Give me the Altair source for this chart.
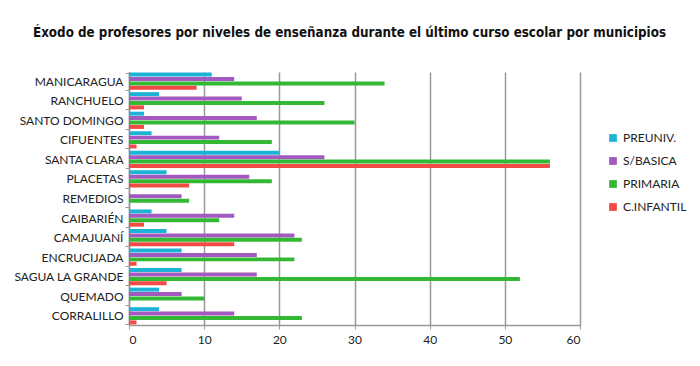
import altair as alt
import pandas as pd

municipios = ["MANICARAGUA", "RANCHUELO", "SANTO DOMINGO", "CIFUENTES", "SANTA CLARA",
              "PLACETAS", "REMEDIOS", "CAIBARIÉN", "CAMAJUANÍ", "ENCRUCIJADA",
              "SAGUA LA GRANDE", "QUEMADO", "CORRALILLO"]
series = ["PREUNIV.", "S/BASICA", "PRIMARIA", "C.INFANTIL"]
preuniv = [11, 4, 2, 3, 20, 5, 0, 3, 5, 7, 7, 4, 4]
sbasica = [14, 15, 17, 12, 26, 16, 7, 14, 22, 17, 17, 7, 14]
primaria = [34, 26, 30, 19, 56, 19, 8, 12, 23, 22, 52, 10, 23]
cinfantil = [9, 2, 2, 1, 56, 8, 0, 2, 14, 1, 5, 0, 1]
colores = ["#1db3d6", "#a25ac1", "#33b833", "#f24a44"]
x_ticks = [0, 10, 20, 30, 40, 50, 60]

rows = []
for s, vals in zip(series, [preuniv, sbasica, primaria, cinfantil]):
    for m, v in zip(municipios, vals):
        rows.append({"municipio": m, "nivel": s, "valor": v})
df = pd.DataFrame(rows)

chart = alt.Chart(df).mark_bar().encode(
    x=alt.X("valor:Q",
            scale=alt.Scale(domain=[0, 60], nice=False),
            axis=alt.Axis(values=x_ticks, title=None, grid=True, gridColor="#999999",
                          gridWidth=1.5, domainColor="#999999", domainWidth=1.5,
                          tickColor="#999999", tickSize=4, labelFont="Lato",
                          labelFontSize=12, labelColor="#222222", labelPadding=5)),
    y=alt.Y("municipio:N", sort=municipios,
            scale=alt.Scale(paddingInner=0.12, paddingOuter=0.03),
            axis=alt.Axis(title=None, domainColor="#999999", domainWidth=1.5,
                          tickColor="#999999", tickSize=4, tickBand="extent",
                          labelFont="Lato", labelFontSize=12, labelColor="#222222",
                          labelPadding=2)),
    yOffset=alt.YOffset("nivel:N", sort=series, scale=alt.Scale(paddingInner=0.1)),
    color=alt.Color("nivel:N", sort=series,
                    scale=alt.Scale(domain=series, range=colores),
                    legend=alt.Legend(title=None, orient="none", legendX=478, legendY=60,
                                      symbolType="square", symbolSize=60,
                                      labelFont="Lato", labelFontSize=12,
                                      labelColor="#222222", rowPadding=11)),
).properties(
    width=451, height=253,
    autosize=alt.AutoSizeParams(type="none"),
    padding={"left": 121, "top": 64, "right": 112, "bottom": 24},
    title=alt.Title("Éxodo de profesores por niveles de enseñanza durante el último curso escolar por municipios",
                    font="DejaVu Sans Condensed", fontSize=13.3, fontWeight="bold",
                    color="#111111", anchor="middle", dx=-5, offset=27),
).configure_view(stroke=None)

chart.save("out.html", embed_options={"renderer": "svg", "actions": False})
